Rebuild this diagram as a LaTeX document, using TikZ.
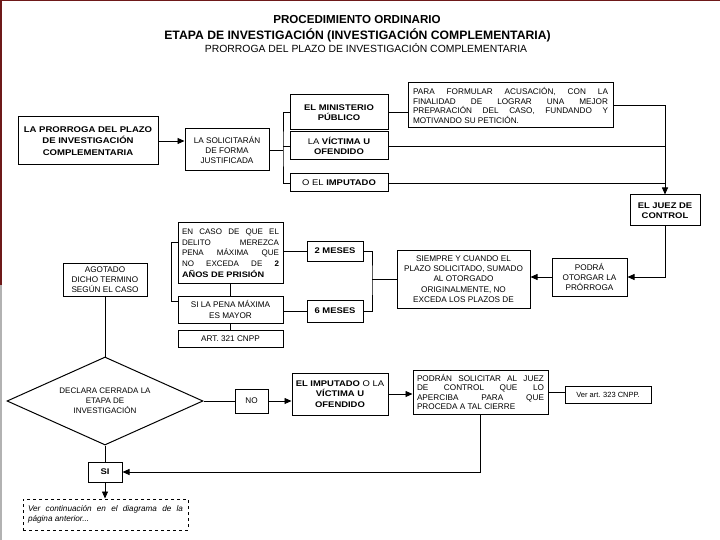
\documentclass[tikz,border=0pt]{standalone}
\usepackage{fontspec}
\setmainfont{Liberation Sans}
\newfontfamily\wf[FakeStretch=1.15]{Liberation Sans}
\usetikzlibrary{shapes.geometric,arrows.meta}
\definecolor{maroon}{RGB}{110,25,25}
\begin{document}
\hyphenpenalty=10000 \exhyphenpenalty=10000
\begin{tikzpicture}[x=1pt,y=-1pt,
  bx/.style={draw, line width=1pt, align=center, inner sep=1pt, font=\fontsize{8.2}{10.2}\selectfont},
  bbx/.style={bx, font=\fontsize{8.2}{10.5}\selectfont\wf\bfseries},
  jbx/.style={draw, line width=1pt, align=justify, inner sep=1pt, font=\fontsize{8.2}{9.6}\selectfont},
  ln/.style={line width=0.8pt},
  arr/.style={ln, -{Triangle[length=7pt,width=6pt]}},
  ttl/.style={inner sep=0pt, font=\fontsize{11.6}{13}\selectfont\bfseries}]
\useasboundingbox (0,0) rectangle (720,540);
\fill[maroon] (0,0) rectangle (2,285);
\fill[gray!60] (0,285) rectangle (1.5,540);
\fill[maroon] (0,0) rectangle (720,1);
% titles
\node[ttl] (t1) at (357,20) {PROCEDIMIENTO ORDINARIO};
\node[ttl, font=\fontsize{12.2}{14}\selectfont\bfseries] (t2) at (357.5,35) {ETAPA DE INVESTIGACIÓN (INVESTIGACIÓN COMPLEMENTARIA)};
\node[ttl, font=\fontsize{10.4}{12}\selectfont] (t3) at (366,48) {PRORROGA DEL PLAZO DE INVESTIGACIÓN COMPLEMENTARIA};
% top row
\node[bbx, minimum width=140, minimum height=48, font=\fontsize{8.3}{11.5}\selectfont\wf\bfseries] (b1) at (88,141) {LA PRORROGA DEL PLAZO\\DE INVESTIGACIÓN\\COMPLEMENTARIA};
\node[bx, minimum width=84, minimum height=42] (b2) at (227,150) {LA SOLICITARÁN\\DE FORMA\\JUSTIFICADA};
\node[bbx, minimum width=98, minimum height=35] (mp) at (339,112.5) {EL MINISTERIO\\PÚBLICO};
\node[bx, minimum width=98, minimum height=28, font=\fontsize{8.2}{10.5}\selectfont\wf] (vic) at (339,146) {LA \textbf{VÍCTIMA U}\\\textbf{OFENDIDO}};
\node[bx, minimum width=98, minimum height=18, font=\fontsize{8.2}{10.5}\selectfont\wf] (imp) at (339,183) {O EL \textbf{IMPUTADO}};
\node[jbx, minimum width=205, minimum height=45, text width=195] (para) at (510.5,105.5) {PARA FORMULAR ACUSACIÓN, CON LA\linebreak FINALIDAD DE LOGRAR UNA MEJOR\linebreak PREPARACIÓN DEL CASO, FUNDANDO Y\linebreak MOTIVANDO SU PETICIÓN.};
\node[bbx, minimum width=70, minimum height=31] (juez) at (665,210.5) {EL JUEZ DE\\CONTROL};
% middle row
\node[bx, minimum width=75, minimum height=38] (podra) at (589.5,277) {PODRÁ\\OTORGAR LA\\PRÓRROGA};
\node[bx, minimum width=133, minimum height=58, font=\fontsize{8.2}{10.3}\selectfont] (siempre) at (463.5,279) {SIEMPRE Y CUANDO EL\\PLAZO SOLICITADO, SUMADO\\AL OTORGADO\\ORIGINALMENTE, NO\\EXCEDA LOS PLAZOS DE};
\node[bbx, minimum width=56, minimum height=20] (dos) at (335,251) {2 MESES};
\node[bbx, minimum width=56, minimum height=22] (seis) at (335,311) {6 MESES};
\node[jbx, minimum width=105, minimum height=60, text width=97, font=\fontsize{8}{10.7}\selectfont] (encaso) at (230.5,253) {EN CASO DE QUE EL\linebreak DELITO MEREZCA\linebreak PENA MÁXIMA QUE\linebreak NO EXCEDA DE \textbf{2}\linebreak \textbf{\wf AÑOS DE PRISIÓN}};
\node[bx, minimum width=105, minimum height=27] (pena) at (230.5,309.5) {SI LA PENA MÁXIMA\\ES MAYOR};
\node[bx, minimum width=105, minimum height=17] (art) at (230.5,338.5) {ART. 321 CNPP};
\node[bx, minimum width=84, minimum height=33] (agot) at (105,279.5) {AGOTADO\\DICHO TERMINO\\SEGÚN EL CASO};
% bottom
\node[draw, line width=1pt, shape=diamond, shape aspect=2.2, minimum width=196, minimum height=88, inner sep=0pt, align=center, font=\fontsize{8}{10}\selectfont] (diam) at (105,401) {DECLARA CERRADA LA\\ETAPA DE\\INVESTIGACIÓN};
\node[bx, minimum width=33, minimum height=24] (no) at (251.5,401) {NO};
\node[bbx, minimum width=96, minimum height=42] (imp2) at (340,394) {EL IMPUTADO \textmd{O LA}\\VÍCTIMA U\\OFENDIDO};
\node[jbx, minimum width=135, minimum height=44, text width=127] (podran) at (480.5,392) {PODRÁN SOLICITAR AL JUEZ\linebreak DE CONTROL QUE LO\linebreak APERCIBA PARA QUE\linebreak PROCEDA A TAL CIERRE};
\node[bx, minimum width=86, minimum height=17, font=\fontsize{7.5}{9}\selectfont] (ver) at (608,394.5) {Ver art. 323 CNPP.};
\node[bbx, minimum width=34, minimum height=20] (si) at (105,472) {SI};
\node[draw, dashed, line width=1pt, minimum width=165, minimum height=31, text width=155, align=justify, inner sep=1pt, font=\fontsize{8.2}{10}\selectfont\itshape] (cont) at (105.5,514.5) {Ver continuación en el diagrama de la\linebreak página anterior...};
% connectors top
\coordinate (bk) at (283,150);
\draw[arr] (b1.east) -- (b1.east -| b2.west);
\draw[ln] (b2.east) -- (bk);
\draw[ln] (mp.west) -| (bk) |- (imp.west);
\draw[ln] (vic.west) -- (vic.west -| bk);
\draw[ln] (mp.east) -- (mp.east -| para.west);
\draw[arr] (para.east) -| (juez.north);
\draw[ln] (vic.east) -- (vic.east -| juez.north);
\draw[ln] (imp.east) -- (imp.east -| juez.north);
\draw[arr] (juez.south) |- (podra.east);
\draw[arr] (podra.west) -- (podra.west -| siempre.east);
% middle connectors
\coordinate (rb) at (372,279);
\draw[ln] (siempre.west) -- (rb);
\draw[ln] (dos.east) -| (rb) |- (seis.east);
\draw[ln] (dos.west -| encaso.east) -- (dos.west);
\draw[ln] (seis.west -| pena.east) -- (seis.west);
\draw[ln] (encaso.south) -- (pena.north);
\draw[ln] (pena.south) -- (art.north);
\draw[ln] ([yshift=-20pt]encaso.north west) -- ++(-6,0) |- ([yshift=-6pt]pena.north west);
% bottom connectors
\draw[ln] (agot.south) -- (diam.north);
\draw[ln] (diam.east) -- (no.west);
\draw[arr] (no.east) -- (no.east -| imp2.west);
\draw[arr] (imp2.east) -- (imp2.east -| podran.west);
\draw[ln] (podran.east) -- (podran.east -| ver.west);
\draw[arr] (podran.south) |- (si.east);
\draw[ln] (diam.south) -- (si.north);
\draw[arr] (si.south) -- (si.south |- cont.north);
\end{tikzpicture}
\end{document}
